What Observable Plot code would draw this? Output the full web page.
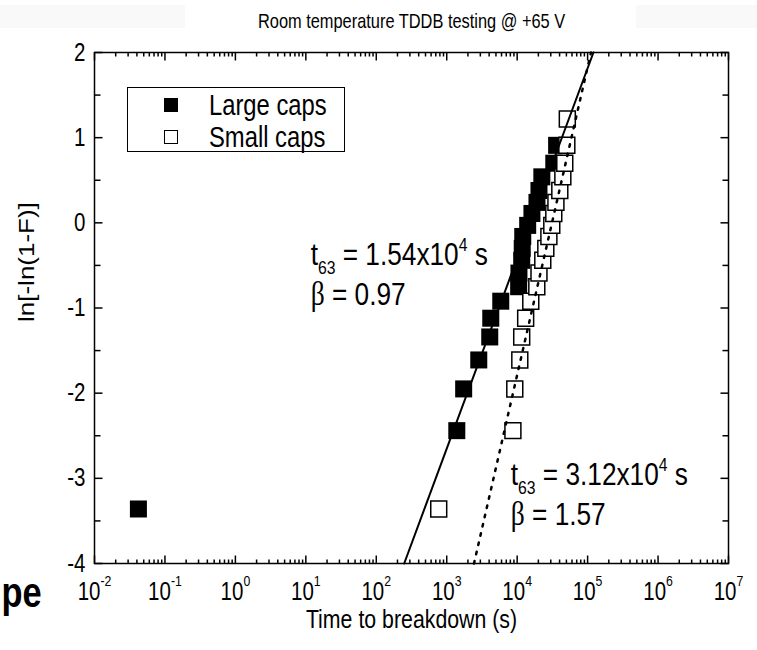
<!DOCTYPE html>
<html>
<head>
<meta charset="utf-8">
<script src="https://cdn.jsdelivr.net/npm/d3@7"></script>
<script src="https://cdn.jsdelivr.net/npm/@observablehq/plot@0.6"></script>
<style>
html, body { margin: 0; padding: 0; background: #fff; }
#wrap { position: relative; width: 757px; height: 650px; overflow: hidden; font-family: "Liberation Sans", Arial, sans-serif; }
#wrap svg { position: absolute; left: 0; top: 0; }
.band { position: absolute; top: 5px; height: 23px; background: #f9f9f9; }
#legend { position: absolute; left: 127px; top: 87px; width: 218px; height: 65px; box-sizing: border-box; border: 1.5px solid #000; background: #fff; }
.lg-item { position: absolute; left: 0; height: 30px; display: flex; align-items: center; }
.lg-sw { width: 14px; height: 14px; box-sizing: border-box; margin-left: 36px; flex: none; }
.lg-txt { margin-left: 31px; font-size: 29px; line-height: 30px; color: #000; white-space: nowrap; transform: scaleX(0.82); transform-origin: left center; }
</style>
</head>
<body>
<div id="wrap">
  <div class="band" style="left:0;width:185px"></div>
  <div class="band" style="left:636px;width:121px"></div>
</div>
<script>
// ---- data ----
const largeT = [0.042, 1390, 1740, 2850, 4080, 4220, 5850, 10500, 10600, 11600, 11800, 12000, 14100, 16200, 19100, 20400, 22400, 33100, 36300];
const largeY = [-3.36, -2.44, -1.95, -1.61, -1.34, -1.12, -0.92, -0.75, -0.59, -0.44, -0.30, -0.16, -0.03, 0.11, 0.24, 0.38, 0.54, 0.70, 0.91];
const smallT = [770, 8700, 9250, 10900, 11600, 13200, 15600, 19000, 20400, 23100, 25500, 28200, 31000, 33100, 35500, 40300, 44500, 47400, 50700, 51500];
const smallY = [-3.36, -2.44, -1.95, -1.61, -1.34, -1.12, -0.92, -0.75, -0.59, -0.44, -0.30, -0.16, -0.03, 0.11, 0.24, 0.38, 0.54, 0.70, 0.91, 1.22];

// Weibull fit lines (end points where they meet the frame)
const fitLargeT = [249, 121000];
const fitLargeY = [-4, 2];
const fitSmallT = [2440, 111600];
const fitSmallY = [-4, 2];

// tick labels
const xExponents = ["-2", "-1", "0", "1", "2", "3", "4", "5", "6", "7"];
const yTickValues = [-4, -3, -2, -1, 0, 1, 2];
const yTickLabels = ["-4", "-3", "-2", "-1", "0", "1", "2"];
const yMinorValues = [-3.5, -2.5, -1.5, -0.5, 0.5, 1.5];

// texts
const titleText = "Room temperature TDDB testing @ +65 V";
const xTitle = "Time to breakdown (s)";
const yTitle = "ln[-ln(1-F)]";
const legendLabels = ["Large caps", "Small caps"];
const annoLarge = ["t_{63} = 1.54x10^{4} s", "β = 0.97"];
const annoSmall = ["t_{63} = 3.12x10^{4} s", "β = 1.57"];
const annoLargeAt = {t: 11.7, y: [-0.38, -0.85]};
const annoSmallAt = {t: 8100, y: [-2.96, -3.43]};
const fragment = "pe";

// ---- derived tick positions ----
const xMajor = xExponents.map(e => Math.pow(10, +e));
const xMinor = [];
for (let e = -2; e < 7; e++) for (let m = 2; m <= 9; m++) xMinor.push(m * Math.pow(10, e));

const tickSym = (dx, dy) => ({
  draw(ctx, size) {
    const l = Math.sqrt(size / Math.PI);
    ctx.moveTo(0, 0);
    ctx.lineTo(dx * l, dy * l);
  }
});
const up = tickSym(0, -1), down = tickSym(0, 1), right = tickSym(1, 0), left = tickSym(-1, 0);
const tickStyle = {fill: "none", stroke: "black", strokeWidth: 1.5};

const large = largeT.map((t, i) => ({t, y: largeY[i]}));
const small = smallT.map((t, i) => ({t, y: smallY[i]}));
const fitL = fitLargeT.map((t, i) => ({t, y: fitLargeY[i]}));
const fitS = fitSmallT.map((t, i) => ({t, y: fitSmallY[i]}));

const chart = Plot.plot({
  width: 757,
  height: 650,
  marginLeft: 94,
  marginRight: 29,
  marginTop: 52,
  marginBottom: 87,
  style: {fontFamily: "Liberation Sans, Arial, sans-serif", background: "transparent", overflow: "visible", color: "black"},
  x: {type: "log", domain: [1e-2, 1e7], axis: null},
  y: {domain: [-4, 2], axis: null},
  marks: [
    // ticks (inward, all four sides)
    Plot.dot(xMajor, {x: d => d, y: () => -4, symbol: up, r: 8, ...tickStyle}),
    Plot.dot(xMajor, {x: d => d, y: () => 2, symbol: down, r: 8, ...tickStyle}),
    Plot.dot(xMinor, {x: d => d, y: () => -4, symbol: up, r: 4, ...tickStyle}),
    Plot.dot(xMinor, {x: d => d, y: () => 2, symbol: down, r: 4, ...tickStyle}),
    Plot.dot(yTickValues, {x: () => 1e-2, y: d => d, symbol: right, r: 8, ...tickStyle}),
    Plot.dot(yTickValues, {x: () => 1e7, y: d => d, symbol: left, r: 8, ...tickStyle}),
    Plot.dot(yMinorValues, {x: () => 1e-2, y: d => d, symbol: right, r: 6, ...tickStyle}),
    Plot.dot(yMinorValues, {x: () => 1e7, y: d => d, symbol: left, r: 6, ...tickStyle}),
    Plot.frame({stroke: "black", strokeWidth: 1.5}),
    // tick labels
    Plot.text(xExponents, {x: d => Math.pow(10, +d), y: () => -4, text: d => "10^{" + d + "}", dy: 28, fontSize: 25, fill: "black"}),
    Plot.text(yTickValues, {x: () => 1e-2, y: d => d, text: (d, i) => yTickLabels[i], textAnchor: "end", dx: -9, fontSize: 25, fill: "black"}),
    // data
    Plot.dot(large, {x: "t", y: "y", symbol: "square", r: 9.6, fill: "black", stroke: "none"}),
    Plot.dot(small, {x: "t", y: "y", symbol: "square", r: 9.0, fill: "white", stroke: "black", strokeWidth: 1.5}),
    // fits
    Plot.line(fitL, {x: "t", y: "y", stroke: "black", strokeWidth: 2}),
    Plot.line(fitS, {x: "t", y: "y", stroke: "black", strokeWidth: 2.5, strokeDasharray: "2.5,7"}),
    // annotations
    Plot.text(annoLarge, {x: () => annoLargeAt.t, y: (d, i) => annoLargeAt.y[i], text: d => d, textAnchor: "start", fontSize: 32, fill: "black"}),
    Plot.text(annoSmall, {x: () => annoSmallAt.t, y: (d, i) => annoSmallAt.y[i], text: d => d, textAnchor: "start", fontSize: 32, fill: "black"}),
    // titles
    Plot.text([titleText], {frameAnchor: "top", dy: -39, text: d => d, fontSize: 20, fill: "black"}),
    Plot.text([xTitle], {frameAnchor: "bottom", dy: 64, text: d => d, fontSize: 26, fill: "black"}),
    Plot.text([yTitle], {frameAnchor: "left", dx: -65, dy: 14, rotate: -90, text: d => d, fontSize: 26, fill: "black"}),
    // fragment of neighbouring slide text
    Plot.text([fragment], {frameAnchor: "bottom-left", dx: -93, dy: 43, text: d => d, textAnchor: "start", fontSize: 42, fontWeight: "bold", fill: "black"})
  ]
});

const wrap = document.getElementById("wrap");
wrap.appendChild(chart);

// rich text: _{sub}, ^{sup}, β in a serif face
d3.select(chart).selectAll("text").each(function() {
  const s = this.textContent;
  if (!/[_^]\{|β/.test(s)) return;
  const fs = parseFloat(getComputedStyle(this).fontSize) || 20;
  const isTick = s.startsWith("10^{");
  const el = d3.select(this);
  el.text(null);
  let shift = 0;
  s.split(/(_\{[^}]*\}|\^\{[^}]*\}|β)/).filter(p => p !== "").forEach(p => {
    let target = 0, txt = p, size = null, family = null;
    if (p.startsWith("_{")) { target = 0.28 * fs; txt = p.slice(2, -1); size = 0.6 * fs; }
    else if (p.startsWith("^{")) { target = (isTick ? -0.55 : -0.45) * fs; txt = p.slice(2, -1); size = 0.6 * fs; }
    else if (p === "β") { family = "Liberation Serif, serif"; size = 1.05 * fs; }
    const ts = el.append("tspan").text(txt).attr("dy", (target - shift) + "px");
    if (size) ts.attr("font-size", size + "px");
    if (family) ts.attr("font-family", family);
    shift = target;
  });
});

// the reference's lettering is narrow: squeeze every text horizontally about its anchor
const squeeze = 0.82;
d3.select(chart).selectAll("text").each(function() {
  const parent = this.parentNode;
  const r = this.getBoundingClientRect();
  const anchor = getComputedStyle(this).textAnchor;
  const sx = anchor === "end" ? r.right : anchor === "middle" ? (r.left + r.right) / 2 : r.left;
  const pt = chart.createSVGPoint();
  pt.x = sx; pt.y = r.top;
  const p = pt.matrixTransform(parent.getScreenCTM().inverse());
  const g = document.createElementNS("http://www.w3.org/2000/svg", "g");
  g.setAttribute("transform", `translate(${p.x},0) scale(${squeeze},1) translate(${-p.x},0)`);
  parent.insertBefore(g, this);
  g.appendChild(this);
});

// legend
const legend = document.createElement("div");
legend.id = "legend";
legendLabels.forEach((lab, i) => {
  const item = document.createElement("div");
  item.className = "lg-item";
  item.style.top = (i === 0 ? 2 : 34) + "px";
  const sw = document.createElement("div");
  sw.className = "lg-sw";
  sw.style.background = i === 0 ? "#000" : "#fff";
  sw.style.border = "1.5px solid #000";
  const tx = document.createElement("div");
  tx.className = "lg-txt";
  tx.textContent = lab;
  item.appendChild(sw);
  item.appendChild(tx);
  legend.appendChild(item);
});
wrap.appendChild(legend);
</script>
</body>
</html>
